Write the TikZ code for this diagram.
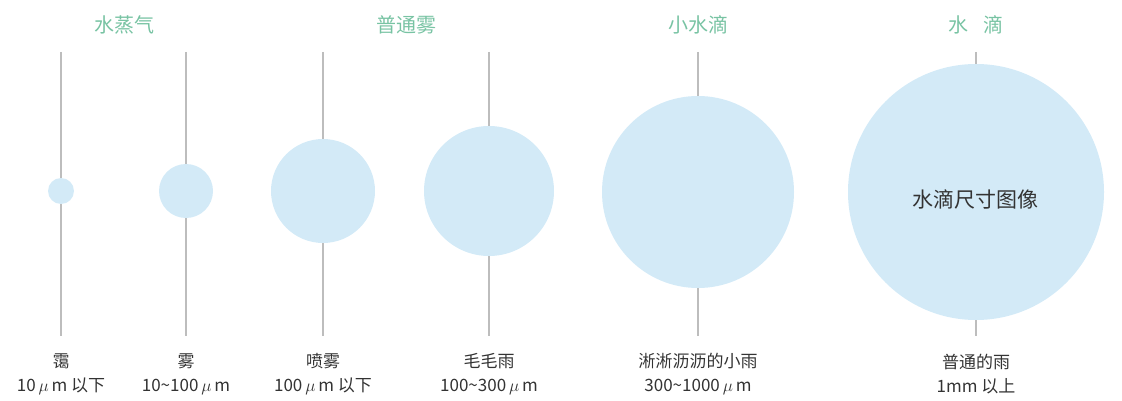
\documentclass[tikz,border=0pt]{standalone}
\usepackage{fontspec}
\setmainfont{Noto Sans CJK SC}
\usetikzlibrary{positioning}
\definecolor{dropblue}{HTML}{D3EAF7}
\definecolor{titlegreen}{HTML}{78C3A3}
\definecolor{stemgray}{HTML}{BDBDBD}
\definecolor{labelgray}{HTML}{333333}
\begin{document}
\begin{tikzpicture}[x=1pt,y=-1pt,
  drop/.style={circle,fill=dropblue,inner sep=0pt},
  stem/.style={stemgray,line width=1.5pt},
  title/.style={titlegreen,font=\fontsize{20}{24}\selectfont},
  sizelabel/.style={labelgray,align=center,font=\fontsize{17}{24}\selectfont}]
\useasboundingbox (0,0) rectangle (1122,401);
% stems behind the drops
\foreach \n/\x in {1/61,2/186,3/323,4/489,5/698,6/976}{
  \coordinate (t\n) at (\x,52); \coordinate (b\n) at (\x,336);
  \draw[stem] (t\n) -- (b\n);}
\node[drop,minimum size=26pt] (d1) at (61,191) {};
\node[drop,minimum size=54pt] (d2) at (186,191) {};
\node[drop,minimum size=104pt] (d3) at (323,191) {};
\node[drop,minimum size=130pt] (d4) at (489,191) {};
\node[drop,minimum size=192pt] (d5) at (698,192) {};
\node[drop,minimum size=256pt] (d6) at (976,192) {};
\node[labelgray,font=\fontsize{21}{24}\selectfont] (cap) at (975,199) {水滴尺寸图像};
% headings
\node[title] (h1) at (124,25) {水蒸气};
\node[title] (h2) at (406,25) {普通雾};
\node[title] (h3) at (698,25) {小水滴};
\node[title] (h4) at (976,25) {水\hspace{0.75em}滴};
% sizes
\node[sizelabel] (l1) at (61,374) {霭\\10$\,\mu\,$m 以下};
\node[sizelabel] (l2) at (186,374) {雾\\10\textasciitilde100$\,\mu\,$m};
\node[sizelabel] (l3) at (323,374) {喷雾\\100$\,\mu\,$m 以下};
\node[sizelabel] (l4) at (489,374) {毛毛雨\\100\textasciitilde300$\,\mu\,$m};
\node[sizelabel] (l5) at (698,374) {淅淅沥沥的小雨\\300\textasciitilde1000$\,\mu\,$m};
\node[sizelabel] (l6) at (976,374) {普通的雨\\1mm 以上};
\end{tikzpicture}
\end{document}
